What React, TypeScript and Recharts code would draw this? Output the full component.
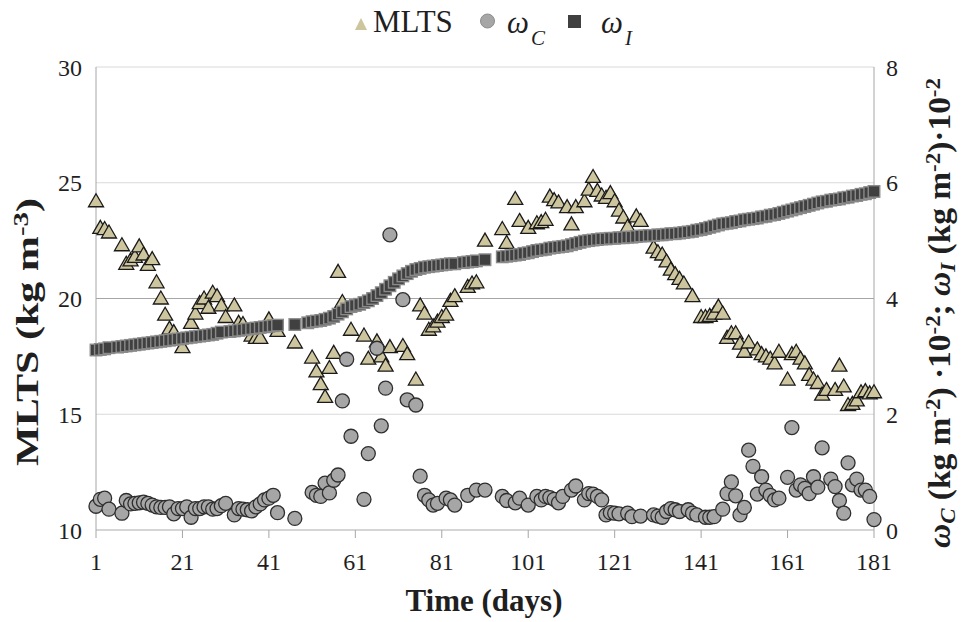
import React from 'react';
import {
  ScatterChart,
  Scatter,
  XAxis,
  YAxis,
  CartesianGrid,
  ReferenceLine,
  Legend,
} from 'recharts';

// ─── Data ─────────────────────────────────────────────────────────────────────

const X_TICKS = [1, 21, 41, 61, 81, 101, 121, 141, 161, 181];
const LEFT_TICKS = [10, 15, 20, 25, 30];
const RIGHT_TICKS = [0, 2, 4, 6, 8];

// MLTS (kg m-3), left axis
const mltsDays = [
  1, 2, 3, 4, 7, 8, 9, 10, 11, 12, 13, 14, 15, 16, 17, 18, 19, 21, 23, 24, 25, 26, 27, 28, 29, 30,
  31, 33, 34, 35, 37, 38, 39, 41, 43, 47, 51, 52, 53, 54, 55, 56, 57, 58, 60, 63, 64, 66, 67, 68,
  69, 72, 73, 75, 76, 77, 78, 79, 80, 81, 82, 83, 84, 87, 88, 89, 91, 95, 96, 98, 99, 101, 103, 104,
  105, 106, 107, 108, 110, 111, 112, 114, 115, 116, 117, 118, 119, 120, 121, 122, 123, 124, 126,
  127, 130, 131, 132, 133, 134, 135, 136, 137, 139, 141, 142, 143, 144, 145, 146, 147, 148, 149,
  150, 151, 152, 154, 155, 156, 157, 158, 159, 161, 162, 163, 164, 165, 166, 167, 168, 169, 170,
  172, 173, 174, 175, 176, 177, 178, 179, 180, 181,
];
const mltsValues = [
  24.2, 23.05, 23.0, 22.85, 22.3, 21.5, 21.65, 21.8, 22.25, 21.9, 21.45, 21.7, 20.7, 20.0, 19.3,
  18.7, 18.55, 17.9, 18.95, 19.35, 19.8, 20.0, 19.6, 20.25, 20.1, 19.7, 19.2, 19.7, 18.95, 18.9,
  18.4, 18.3, 18.3, 19.1, 18.6, 18.1, 17.45, 16.85, 16.3, 15.75, 17.0, 17.65, 21.15, 19.85, 18.65,
  18.4, 17.4, 18.15, 17.5, 17.1, 17.9, 17.95, 17.6, 16.5, 19.7, 19.35, 18.65, 18.8, 19.0, 19.2,
  19.3, 19.9, 20.1, 20.5, 20.65, 20.7, 22.5, 23.0, 22.4, 24.3, 23.35, 23.05, 23.25, 23.3, 23.4,
  24.4, 24.25, 24.15, 23.95, 23.2, 23.95, 24.2, 24.7, 25.25, 24.65, 24.45, 24.35, 24.55, 24.2,
  23.8, 23.5, 23.1, 23.55, 23.35, 22.2, 22.0, 21.9, 21.6, 21.25, 21.05, 20.85, 20.65, 20.1, 19.2,
  19.2, 19.25, 19.35, 19.65, 19.35, 18.3, 18.5, 18.5, 18.05, 17.7, 18.1, 17.8, 17.6, 17.5, 17.4,
  17.2, 17.7, 16.5, 17.6, 17.7, 17.4, 17.2, 16.7, 16.5, 16.35, 15.85, 16.05, 16.05, 17.1, 16.2,
  15.4, 15.45, 15.6, 15.95, 16.0, 15.9, 15.95,
];

// omega C (kg m-2 ·10-2), right axis
const omegaCDays = [
  1, 2, 3, 4, 7, 8, 9, 10, 11, 12, 13, 14, 15, 16, 17, 18, 19, 20, 21, 22, 23, 24, 25, 26, 27, 28,
  29, 30, 31, 33, 34, 35, 36, 37, 38, 39, 40, 41, 42, 43, 47, 51, 52, 53, 54, 55, 56, 57, 58, 59,
  60, 63, 64, 66, 67, 68, 69, 72, 73, 75, 76, 77, 78, 79, 80, 82, 83, 84, 87, 89, 91, 95, 96, 98,
  99, 101, 103, 104, 105, 106, 107, 108, 109, 111, 112, 114, 115, 116, 117, 118, 119, 120, 121,
  122, 124, 125, 127, 130, 131, 132, 133, 134, 135, 136, 138, 139, 140, 142, 143, 144, 146, 147,
  148, 149, 150, 151, 152, 153, 154, 155, 156, 157, 158, 159, 161, 162, 163, 164, 165, 166, 167,
  168, 169, 171, 172, 173, 174, 175, 176, 177, 178, 179, 180, 181,
];
const omegaCValues = [
  0.41, 0.53, 0.55, 0.36, 0.29, 0.51, 0.45, 0.46, 0.47, 0.48, 0.46, 0.43, 0.4, 0.39, 0.39, 0.4,
  0.28, 0.37, 0.37, 0.4, 0.22, 0.37, 0.37, 0.4, 0.4, 0.36, 0.37, 0.42, 0.46, 0.26, 0.37, 0.36,
  0.35, 0.33, 0.4, 0.45, 0.52, 0.55, 0.6, 0.3, 0.2, 0.65, 0.6, 0.58, 0.81, 0.64, 0.86, 0.95, 2.23,
  2.95, 1.62, 0.53, 1.32, 3.14, 1.8, 2.45, 5.1, 3.98, 2.25, 2.16, 0.93, 0.6, 0.52, 0.43, 0.46,
  0.55, 0.52, 0.43, 0.6, 0.69, 0.69, 0.58, 0.51, 0.47, 0.55, 0.43, 0.58, 0.52, 0.58, 0.56, 0.53,
  0.47, 0.58, 0.69, 0.76, 0.52, 0.63, 0.62, 0.58, 0.52, 0.26, 0.3, 0.29, 0.28, 0.29, 0.23, 0.24,
  0.26, 0.24, 0.22, 0.32, 0.37, 0.35, 0.32, 0.35, 0.29, 0.26, 0.22, 0.22, 0.23, 0.36, 0.63, 0.83,
  0.59, 0.26, 0.39, 1.38, 1.1, 0.62, 0.92, 0.69, 0.6, 0.52, 0.55, 0.91, 1.77, 0.69, 0.78, 0.72,
  0.63, 0.92, 0.74, 1.42, 0.88, 0.75, 0.51, 0.29, 1.16, 0.78, 0.88, 0.69, 0.69, 0.58, 0.18,
];

// omega I (kg m-2 ·10-2), right axis
const omegaIDays = [
  1, 2, 3, 4, 6, 7, 8, 9, 10, 11, 12, 13, 14, 15, 16, 17, 18, 19, 20, 21, 22, 23, 24, 25, 26, 27,
  28, 29, 30, 32, 33, 34, 35, 36, 37, 38, 39, 40, 41, 42, 43, 47, 50, 51, 52, 53, 54, 55, 56, 57,
  58, 59, 60, 61, 62, 63, 64, 65, 66, 67, 68, 69, 70, 71, 72, 73, 74, 75, 76, 77, 78, 79, 80, 81,
  82, 83, 84, 86, 87, 88, 89, 91, 95, 96, 97, 98, 99, 100, 101, 102, 103, 104, 105, 106, 107, 108,
  109, 110, 111, 112, 113, 114, 115, 116, 117, 118, 119, 120, 121, 122, 123, 124, 125, 126, 127,
  128, 129, 130, 131, 132, 133, 134, 135, 136, 137, 138, 139, 140, 141, 142, 143, 144, 145, 146,
  147, 148, 149, 150, 151, 152, 153, 154, 155, 156, 157, 158, 159, 160, 161, 162, 163, 164, 165,
  166, 167, 168, 169, 170, 171, 172, 173, 174, 175, 176, 177, 178, 179, 180, 181,
];
const omegaIValues = [
  3.11, 3.12, 3.13, 3.15, 3.16, 3.17, 3.18, 3.19, 3.2, 3.21, 3.22, 3.23, 3.24, 3.25, 3.26, 3.27,
  3.28, 3.29, 3.3, 3.31, 3.32, 3.33, 3.34, 3.35, 3.36, 3.37, 3.38, 3.4, 3.42, 3.43, 3.44, 3.45,
  3.46, 3.47, 3.48, 3.49, 3.5, 3.51, 3.52, 3.53, 3.54, 3.55, 3.58, 3.6, 3.61, 3.62, 3.64, 3.66,
  3.69, 3.73, 3.77, 3.82, 3.86, 3.88, 3.9, 3.93, 3.96, 4.0, 4.05, 4.1, 4.16, 4.22, 4.28, 4.34,
  4.39, 4.43, 4.47, 4.5, 4.52, 4.54, 4.55, 4.56, 4.57, 4.58, 4.59, 4.6, 4.6, 4.62, 4.63, 4.64,
  4.65, 4.67, 4.72, 4.73, 4.74, 4.75, 4.76, 4.78, 4.79, 4.81, 4.83, 4.84, 4.85, 4.87, 4.88, 4.89,
  4.9, 4.91, 4.93, 4.95, 4.97, 4.99, 5.0, 5.01, 5.02, 5.03, 5.03, 5.04, 5.04, 5.05, 5.05, 5.06,
  5.06, 5.07, 5.08, 5.08, 5.09, 5.09, 5.1, 5.1, 5.11, 5.12, 5.12, 5.13, 5.14, 5.15, 5.16, 5.18,
  5.19, 5.21, 5.23, 5.25, 5.27, 5.29, 5.3, 5.31, 5.33, 5.34, 5.36, 5.37, 5.38, 5.39, 5.41, 5.42,
  5.44, 5.45, 5.47, 5.49, 5.51, 5.53, 5.55, 5.57, 5.59, 5.61, 5.63, 5.65, 5.67, 5.68, 5.7, 5.71,
  5.72, 5.74, 5.75, 5.77, 5.78, 5.8, 5.81, 5.83, 5.85,
];

const zip = (xs: number[], ys: number[]) => xs.map((x, i) => ({ x, y: ys[i] }));
const mltsData = zip(mltsDays, mltsValues);
const omegaCData = zip(omegaCDays, omegaCValues);
const omegaIData = zip(omegaIDays, omegaIValues);

// ─── Styling ──────────────────────────────────────────────────────────────────

const SERIF = 'Liberation Serif, DejaVu Serif, serif';
const TRI_FILL = '#cdc59d';
const CIRCLE_FILL = '#a6a6a6';
const SQUARE_FILL = '#404040';
const AXIS_GRAY = '#a6a6a6';
const GRID_GRAY = '#d9d9d9';
const TEXT = '#1f1f1f';

type ShapeProps = { cx?: number; cy?: number };

const TriangleShape = ({ cx = 0, cy = 0 }: ShapeProps) => (
  <polygon
    points={`${cx},${cy - 7.5} ${cx + 7.5},${cy + 5.5} ${cx - 7.5},${cy + 5.5}`}
    fill={TRI_FILL}
    stroke="#1a1a1a"
    strokeWidth={1.3}
  />
);

const CircleShape = ({ cx = 0, cy = 0 }: ShapeProps) => (
  <circle cx={cx} cy={cy} r={7} fill={CIRCLE_FILL} stroke="#2e2e2e" strokeWidth={1.3} />
);

const SquareShape = ({ cx = 0, cy = 0 }: ShapeProps) => (
  <rect
    x={cx - 5.75}
    y={cy - 5.75}
    width={11.5}
    height={11.5}
    fill={SQUARE_FILL}
    stroke="#8a8a8a"
    strokeWidth={1.4}
  />
);

// ─── Legend / labels ──────────────────────────────────────────────────────────

const LEGEND_H = 50;

const LegendContent = () => (
  <svg width={964} height={LEGEND_H} style={{ display: 'block' }}>
    <polygon points="355,30 367,30 361,18" fill={TRI_FILL} />
    <text x={373} y={32} fontFamily={SERIF} fontSize={31} fill={TEXT}>MLTS</text>
    <circle cx={487.5} cy={21} r={7} fill={CIRCLE_FILL} stroke="#8c8c8c" strokeWidth={1} />
    <text x={507} y={33} fontFamily={SERIF} fontSize={31} fontStyle="italic" fill={TEXT}>ω</text>
    <text x={531} y={45} fontFamily={SERIF} fontSize={21} fontStyle="italic" fill={TEXT}>C</text>
    <rect x={568} y={15} width={13} height={13} fill={SQUARE_FILL} />
    <text x={601} y={33} fontFamily={SERIF} fontSize={31} fontStyle="italic" fill={TEXT}>ω</text>
    <text x={625} y={45} fontFamily={SERIF} fontSize={21} fontStyle="italic" fill={TEXT}>I</text>
  </svg>
);

const LeftTitle = () => (
  <text
    x={38}
    y={332}
    transform="rotate(-90, 38, 332)"
    textAnchor="middle"
    fontFamily={SERIF}
    fontSize={32}
    fontWeight="bold"
    fill={TEXT}
    textLength={268}
    lengthAdjust="spacingAndGlyphs"
  >
    MLTS (kg m<tspan baselineShift="10" fontSize={22}>-3</tspan>)
  </text>
);

const RightTitle = () => (
  <text
    x={950}
    y={313}
    transform="rotate(-90, 950, 313)"
    textAnchor="middle"
    fontFamily={SERIF}
    fontSize={32}
    fontWeight="bold"
    fill={TEXT}
    textLength={470}
    lengthAdjust="spacingAndGlyphs"
  >
    <tspan fontStyle="italic">ω</tspan>
    <tspan fontStyle="italic" fontSize={22} baselineShift="-5">C</tspan>
    <tspan> (kg m</tspan>
    <tspan baselineShift="10" fontSize={22}>-2</tspan>
    <tspan>) ·10</tspan>
    <tspan baselineShift="10" fontSize={22}>-2</tspan>
    <tspan>; </tspan>
    <tspan fontStyle="italic">ω</tspan>
    <tspan fontStyle="italic" fontSize={22} baselineShift="-5">I</tspan>
    <tspan> (kg m</tspan>
    <tspan baselineShift="10" fontSize={22}>-2</tspan>
    <tspan>)·10</tspan>
    <tspan baselineShift="10" fontSize={22}>-2</tspan>
  </text>
);

const BottomTitle = () => (
  <text
    x={484}
    y={611}
    textAnchor="middle"
    fontFamily={SERIF}
    fontSize={31}
    fontWeight="bold"
    fill={TEXT}
  >
    Time (days)
  </text>
);

const tickStyle = { fill: TEXT, fontSize: 24, fontFamily: SERIF };

// ─── Chart ────────────────────────────────────────────────────────────────────

export default function App() {
  return (
    <div style={{ position: 'absolute', left: 0, top: 0, width: 964, height: 622, background: '#fff' }}>
      <ScatterChart
        width={964}
        height={622}
        margin={{ top: 67 - LEGEND_H, right: 0, bottom: 0, left: 0 }}
      >
        <Legend
          verticalAlign="top"
          align="left"
          content={<LegendContent />}
          wrapperStyle={{ top: 0, left: 0, width: 964, height: LEGEND_H }}
        />
        <CartesianGrid yAxisId="left" horizontal vertical={false} stroke={GRID_GRAY} />

        <XAxis
          type="number"
          dataKey="x"
          domain={[1, 181]}
          ticks={X_TICKS}
          interval={0}
          height={92}
          tick={tickStyle}
          tickSize={8}
          tickMargin={15}
          axisLine={{ stroke: '#bfbfbf' }}
          tickLine={{ stroke: AXIS_GRAY }}
          label={{ content: <BottomTitle /> }}
        />
        <YAxis
          yAxisId="left"
          type="number"
          dataKey="y"
          domain={[10, 30]}
          ticks={LEFT_TICKS}
          interval={0}
          width={96}
          tick={tickStyle}
          tickLine={false}
          tickSize={0}
          tickMargin={14}
          axisLine={{ stroke: AXIS_GRAY }}
          label={{ content: <LeftTitle /> }}
        />
        <YAxis
          yAxisId="right"
          orientation="right"
          type="number"
          dataKey="y"
          domain={[0, 8]}
          ticks={RIGHT_TICKS}
          interval={0}
          width={90}
          tick={tickStyle}
          tickLine={false}
          tickSize={0}
          tickMargin={12}
          axisLine={{ stroke: AXIS_GRAY }}
          label={{ content: <RightTitle /> }}
        />

        <ReferenceLine yAxisId="left" y={20} stroke={AXIS_GRAY} />

        <Scatter
          name="MLTS"
          data={mltsData}
          yAxisId="left"
          shape={TriangleShape}
          isAnimationActive={false}
        />
        <Scatter
          name="ωC"
          data={omegaCData}
          yAxisId="right"
          shape={CircleShape}
          isAnimationActive={false}
        />
        <Scatter
          name="ωI"
          data={omegaIData}
          yAxisId="right"
          shape={SquareShape}
          isAnimationActive={false}
        />
      </ScatterChart>
    </div>
  );
}
